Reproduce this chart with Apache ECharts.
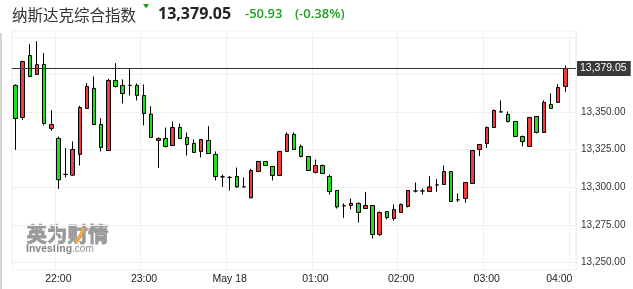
<!DOCTYPE html>
<html>
<head>
<meta charset="utf-8">
<script src="https://cdn.jsdelivr.net/npm/echarts@6/dist/echarts.min.js"></script>
<style>
html,body{margin:0;padding:0;background:#fff;}
#chart{width:633px;height:289px;}
</style>
</head>
<body>
<div id="chart"></div>
<script>
// ---- data ----
var categories = ['21:30','21:35','21:40','21:45','21:50','21:55',
  '22:00','22:05','22:10','22:15','22:20','22:25','22:30','22:35','22:40','22:45','22:50','22:55',
  '23:00','23:05','23:10','23:15','23:20','23:25','23:30','23:35','23:40','23:45','23:50','23:55',
  '00:00','00:05','00:10','00:15','00:20','00:25','00:30','00:35','00:40','00:45','00:50','00:55',
  '01:00','01:05','01:10','01:15','01:20','01:25','01:30','01:35','01:40','01:45','01:50','01:55',
  '02:00','02:05','02:10','02:15','02:20','02:25','02:30','02:35','02:40','02:45','02:50','02:55',
  '03:00','03:05','03:10','03:15','03:20','03:25','03:30','03:35','03:40','03:45','03:50','03:55',
  '04:00'];

var opens = [13367.8,13346.5,13387.7,13375.1,13381.7,13339.2,13332.5,13308.6,13308.1,13321.9,
  13352.5,13365.8,13341.8,13324.5,13371.1,13367.8,13367.8,13367.8,13361.1,13348.7,
  13331.2,13332.5,13327.8,13339.8,13333.2,13329.2,13323.9,13331.2,13321.9,13307.0,
  13306.6,13307.2,13300.3,13293.0,13310.5,13317.2,13313.9,13307.9,13323.9,13335.2,
  13327.2,13320.5,13309.9,13314.5,13307.2,13297.9,13287.7,13287.9,13289.3,13285.9,
  13287.9,13268.6,13283.9,13279.3,13283.3,13287.3,13297.6,13297.6,13297.2,13301.6,
  13301.9,13310.5,13291.7,13292.6,13302.6,13325.2,13329.2,13339.8,13350.2,13348.5,
  13343.8,13333.8,13327.2,13347.1,13336.5,13355.1,13356.5,13367.1];
var closes = [13345.8,13383.7,13373.8,13381.7,13342.5,13341.8,13305.0,13308.6,13325.2,13353.1,
  13367.1,13341.8,13326.5,13371.1,13367.1,13362.4,13367.8,13361.1,13349.1,13333.2,
  13332.5,13327.2,13339.8,13332.5,13328.5,13323.2,13331.8,13322.5,13307.2,13307.0,
  13306.6,13300.3,13300.3,13311.2,13317.2,13314.5,13307.9,13323.9,13335.2,13325.2,
  13320.5,13311.2,13314.5,13309.2,13297.2,13287.0,13287.7,13289.3,13283.3,13287.9,
  13268.6,13283.3,13279.9,13285.3,13288.6,13297.9,13297.6,13297.6,13300.3,13301.6,
  13310.5,13290.6,13291.7,13303.2,13324.5,13328.5,13339.8,13351.1,13350.2,13343.8,
  13333.8,13330.5,13346.5,13336.5,13356.5,13352.5,13366.4,13379.05];
var lows = [13324.9,13344.9,13373.3,13374.8,13341.2,13337.6,13299.0,13306.6,13307.8,13314.5,
  13352.2,13341.5,13323.9,13324.2,13366.4,13355.8,13361.1,13357.8,13341.2,13333.0,
  13312.9,13326.5,13327.5,13332.2,13321.2,13323.0,13319.9,13322.3,13304.6,13300.3,
  13297.9,13299.6,13300.0,13292.8,13310.3,13314.3,13304.6,13307.7,13323.7,13325.0,
  13319.9,13311.0,13309.2,13309.0,13295.2,13285.9,13279.7,13285.3,13276.6,13285.7,
  13266.0,13267.7,13278.6,13277.9,13283.1,13286.6,13296.6,13295.2,13297.0,13297.0,
  13301.7,13290.4,13290.3,13289.7,13302.4,13320.9,13326.2,13339.6,13349.8,13343.1,
  13333.6,13327.2,13327.0,13335.8,13336.3,13352.3,13356.3,13363.5];
var highs = [13368.5,13384.2,13395.2,13397.2,13389.3,13351.3,13333.8,13326.0,13330.5,13354.2,
  13369.3,13373.8,13346.0,13372.2,13382.6,13371.8,13379.1,13369.1,13368.4,13354.0,
  13333.2,13339.8,13343.8,13342.5,13336.5,13331.8,13332.0,13340.7,13323.9,13308.6,
  13307.6,13313.2,13306.6,13312.3,13317.5,13317.4,13314.1,13324.1,13336.5,13336.5,
  13328.4,13320.7,13318.5,13315.2,13308.6,13298.1,13289.3,13292.6,13289.9,13297.0,
  13288.1,13283.9,13284.1,13288.6,13289.3,13298.1,13303.2,13299.2,13307.4,13305.4,
  13314.5,13310.7,13295.9,13303.4,13324.7,13328.7,13340.5,13351.8,13357.8,13350.5,
  13344.0,13334.5,13346.7,13347.3,13357.8,13362.4,13368.6,13381.0];

var tickTimes = ['22:00','23:00','00:00','01:00','02:00','03:00','04:00'];
var tickTexts = ['22:00','23:00','May 18','01:00','02:00','03:00','04:00'];
var yLabelValues = [13250,13275,13300,13325,13350];
var yGridValues = [13250,13275,13300,13325,13350,13375,13400];

var lastPrice = 13379.05;
var titleName = '纳斯达克综合指数';
var changeText = '-50.93';
var changePctText = '(-0.38%)';

// ---- build ----
function fmt(v){
  return v.toLocaleString('en-US',{minimumFractionDigits:2,maximumFractionDigits:2});
}
var ohlc = [];
for (var i = 0; i < categories.length; i++) {
  if (i < opens.length) ohlc.push([opens[i], closes[i], lows[i], highs[i]]);
  else ohlc.push('-');
}
function isTick(idx){ return tickTimes.indexOf(categories[idx]) >= 0; }

var GREEN = '#1f9e1f';
var chart = echarts.init(document.getElementById('chart'), null, {renderer:'canvas'});
chart.setOption({
  animation: false,
  backgroundColor: '#ffffff',
  grid: {left: 12, right: 57, top: 31, bottom: 19, show: true, borderColor: '#efefef', borderWidth: 1},
  xAxis: {
    type: 'category',
    data: categories,
    boundaryGap: true,
    axisLine: {show: false},
    axisTick: {show: false},
    axisLabel: {
      interval: function(idx){ return isTick(idx); },
      formatter: function(v){ var k = tickTimes.indexOf(v); return k >= 0 ? tickTexts[k] : ''; },
      color: '#222', fontSize: 10.5, fontFamily: 'Liberation Sans', margin: 4,
      alignMaxLabel: 'right'
    },
    splitLine: {show: true, interval: function(idx){ return isTick(idx); }, lineStyle: {color: '#f0f0f0', width: 1}}
  },
  yAxis: {
    type: 'value',
    position: 'right',
    min: 13245,
    max: 13404,
    axisLine: {show: false},
    axisTick: {show: false, customValues: yGridValues},
    axisLabel: {
      customValues: yLabelValues,
      formatter: function(v){ return fmt(v); },
      color: '#333', fontSize: 10, fontFamily: 'Liberation Sans', margin: 5
    },
    splitLine: {show: true, lineStyle: {color: '#f0f0f0', width: 1}}
  },
  series: [{
    type: 'candlestick',
    data: ohlc,
    barWidth: 4,
    itemStyle: {
      color: '#f23b3b', color0: '#22dd22',
      borderColor: '#000', borderColor0: '#000', borderColorDoji: '#000',
      borderWidth: 1
    },
    markLine: {
      silent: true,
      symbol: ['none','none'],
      animation: false,
      lineStyle: {color: '#333', width: 1, type: 'solid'},
      label: {
        position: 'end', distance: 1,
        formatter: function(p){ return fmt(p.value); },
        backgroundColor: '#3a3a3a', color: '#fff', padding: [2, 4, 2, 3],
        fontSize: 10.5, fontFamily: 'Liberation Sans'
      },
      data: [{yAxis: lastPrice}]
    }
  }],
  graphic: [
    {type: 'rect', left: 0, top: 33, shape: {width: 2, height: 256}, style: {fill: '#d4d4d4'}, silent: true},
    {type: 'text', left: 12, top: 7, style: {text: titleName, font: '15.5px "Noto Sans CJK SC"', fill: '#333'}},
    {type: 'polygon', shape: {points: [[143,4],[149,4],[146,8.5]]}, style: {fill: GREEN}},
    {type: 'text', left: 158, top: 6, style: {text: fmt(lastPrice), font: 'bold 16px "Open Sans"', fill: '#222'}},
    {type: 'text', left: 245, top: 8, style: {text: changeText, font: '600 13px "Open Sans"', fill: GREEN}},
    {type: 'text', left: 295, top: 8, style: {text: changePctText, font: '600 13px "Open Sans"', fill: GREEN}},
    {type: 'text', left: 26, top: 224, style: {text: '英为财情', font: 'bold 20.5px "Noto Sans CJK SC"', fill: '#9a9a9a', stroke: '#9a9a9a', lineWidth: 0.8}},
    {type: 'line', shape: {x1: 76, y1: 243, x2: 84, y2: 228}, style: {stroke: '#f2ac3a', lineWidth: 3}},
    {type: 'text', left: 26, top: 244, style: {
      text: '{b|Investing}{n|.com}',
      rich: {b: {font: 'bold 10.5px "Liberation Sans"', fill: '#858585'}, n: {font: '10px "Liberation Sans"', fill: '#8a8a8a'}}
    }}
  ]
});
</script>
</body>
</html>
